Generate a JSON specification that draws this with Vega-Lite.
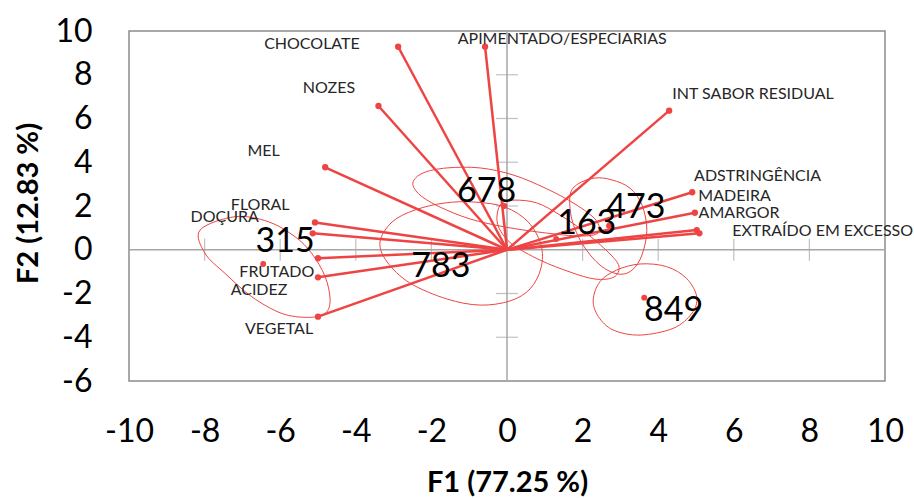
{
  "$schema": "https://vega.github.io/schema/vega-lite/v6.json",
  "width": 756,
  "height": 350,
  "autosize": {"type": "none"},
  "padding": {"left": 129, "top": 31, "right": 29, "bottom": 117},
  "background": "white",
  "config": {
    "view": {"stroke": "#8c8c8c", "strokeWidth": 1.5},
    "axis": {
      "domain": false, "ticks": false, "tickSize": 0, "grid": false,
      "labelFont": "Lato", "labelFontSize": 32, "labelColor": "#000000",
      "labelFlush": false, "labelOverlap": false,
      "labelExpr": "toString(datum.value)",
      "titleFont": "Lato", "titleFontSize": 29, "titleFontWeight": "bold", "titleColor": "#000000"
    }
  },
  "datasets": {
    "axes": [
      {"x": 0, "y": -6, "x2": 0, "y2": 10},
      {"x": -10, "y": 0, "x2": 10, "y2": 0}
    ],
    "ticksX": [{"v": -8}, {"v": -6}, {"v": -4}, {"v": -2}, {"v": 2}, {"v": 4}, {"v": 6}, {"v": 8}],
    "ticksY": [{"v": -4}, {"v": -2}, {"v": 2}, {"v": 4}, {"v": 6}, {"v": 8}],
    "variables": [
      {"var": "CHOCOLATE", "x": -2.88, "y": 9.28, "lx": -5.16, "ly": 9.40},
      {"var": "APIMENTADO/ESPECIARIAS", "x": -0.58, "y": 9.28, "lx": 1.46, "ly": 9.63},
      {"var": "NOZES", "x": -3.40, "y": 6.57, "lx": -4.71, "ly": 7.39},
      {"var": "MEL", "x": -4.81, "y": 3.77, "lx": -6.44, "ly": 4.51},
      {"var": "INT SABOR RESIDUAL", "x": 4.29, "y": 6.36, "lx": 6.51, "ly": 7.12},
      {"var": "ADSTRINGÊNCIA", "x": 4.90, "y": 2.63, "lx": 6.63, "ly": 3.37},
      {"var": "MADEIRA", "x": 4.97, "y": 1.69, "lx": 6.02, "ly": 2.45},
      {"var": "AMARGOR", "x": 5.02, "y": 0.90, "lx": 6.14, "ly": 1.69},
      {"var": "EXTRAÍDO EM EXCESSO", "x": 5.09, "y": 0.75, "lx": 8.35, "ly": 0.86},
      {"var": "FLORAL", "x": -5.08, "y": 1.25, "lx": -6.53, "ly": 2.05},
      {"var": "DOÇURA", "x": -5.14, "y": 0.75, "lx": -7.47, "ly": 1.50},
      {"var": "FRUTADO", "x": -5.00, "y": -0.39, "lx": -6.09, "ly": -1.00},
      {"var": "ACIDEZ", "x": -5.00, "y": -1.26, "lx": -6.56, "ly": -1.84},
      {"var": "VEGETAL", "x": -5.00, "y": -3.06, "lx": -6.03, "ly": -3.62}
    ],
    "samples": [
      {"s": "315", "x": -6.45, "y": -0.65, "lx": -5.87, "ly": 0.37},
      {"s": "678", "x": -0.07, "y": 2.00, "lx": -0.54, "ly": 2.66},
      {"s": "783", "x": -1.20, "y": -0.20, "lx": -1.75, "ly": -0.77},
      {"s": "163", "x": 1.30, "y": 0.49, "lx": 2.11, "ly": 1.18},
      {"s": "473", "x": 2.70, "y": 1.10, "lx": 3.41, "ly": 1.93},
      {"s": "849", "x": 3.63, "y": -2.19, "lx": 4.41, "ly": -2.79}
    ],
    "ellipses": [
      {"s": "315", "i": 1, "x": -8.12, "y": 0.90},
      {"s": "315", "i": 2, "x": -7.20, "y": 1.51},
      {"s": "315", "i": 3, "x": -6.31, "y": 1.28},
      {"s": "315", "i": 4, "x": -5.61, "y": 0.60},
      {"s": "315", "i": 5, "x": -5.17, "y": -0.16},
      {"s": "315", "i": 6, "x": -4.81, "y": -1.23},
      {"s": "315", "i": 7, "x": -4.68, "y": -2.30},
      {"s": "315", "i": 8, "x": -4.81, "y": -2.91},
      {"s": "315", "i": 9, "x": -5.26, "y": -3.09},
      {"s": "315", "i": 10, "x": -5.96, "y": -2.91},
      {"s": "315", "i": 11, "x": -6.75, "y": -2.15},
      {"s": "315", "i": 12, "x": -7.46, "y": -1.08},
      {"s": "315", "i": 13, "x": -7.99, "y": -0.16},
      {"s": "849", "i": 1, "x": 2.28, "y": -2.30},
      {"s": "849", "i": 2, "x": 2.46, "y": -1.46},
      {"s": "849", "i": 3, "x": 2.90, "y": -0.93},
      {"s": "849", "i": 4, "x": 3.52, "y": -0.65},
      {"s": "849", "i": 5, "x": 4.22, "y": -0.77},
      {"s": "849", "i": 6, "x": 4.75, "y": -1.31},
      {"s": "849", "i": 7, "x": 5.02, "y": -2.15},
      {"s": "849", "i": 8, "x": 4.89, "y": -2.91},
      {"s": "849", "i": 9, "x": 4.40, "y": -3.59},
      {"s": "849", "i": 10, "x": 3.52, "y": -3.90},
      {"s": "849", "i": 11, "x": 2.81, "y": -3.67},
      {"s": "849", "i": 12, "x": 2.42, "y": -3.06},
      {"s": "783", "i": 1, "x": -3.36, "y": 0.35},
      {"s": "783", "i": 2, "x": -3.04, "y": 1.27},
      {"s": "783", "i": 3, "x": -2.43, "y": 1.82},
      {"s": "783", "i": 4, "x": -1.64, "y": 2.14},
      {"s": "783", "i": 5, "x": -0.85, "y": 2.18},
      {"s": "783", "i": 6, "x": -0.05, "y": 1.95},
      {"s": "783", "i": 7, "x": 0.56, "y": 1.27},
      {"s": "783", "i": 8, "x": 0.90, "y": 0.22},
      {"s": "783", "i": 9, "x": 0.90, "y": -0.83},
      {"s": "783", "i": 10, "x": 0.61, "y": -1.79},
      {"s": "783", "i": 11, "x": 0.08, "y": -2.34},
      {"s": "783", "i": 12, "x": -0.71, "y": -2.53},
      {"s": "783", "i": 13, "x": -1.59, "y": -2.25},
      {"s": "783", "i": 14, "x": -2.57, "y": -1.52},
      {"s": "783", "i": 15, "x": -3.17, "y": -0.56},
      {"s": "678", "i": 1, "x": -2.49, "y": 3.05},
      {"s": "678", "i": 2, "x": -2.22, "y": 3.51},
      {"s": "678", "i": 3, "x": -1.59, "y": 3.74},
      {"s": "678", "i": 4, "x": -0.71, "y": 3.74},
      {"s": "678", "i": 5, "x": 0.16, "y": 3.42},
      {"s": "678", "i": 6, "x": 1.01, "y": 2.82},
      {"s": "678", "i": 7, "x": 1.80, "y": 2.09},
      {"s": "678", "i": 8, "x": 2.35, "y": 1.36},
      {"s": "678", "i": 9, "x": 2.41, "y": 0.77},
      {"s": "678", "i": 10, "x": 1.93, "y": 0.63},
      {"s": "678", "i": 11, "x": 1.01, "y": 0.77},
      {"s": "678", "i": 12, "x": -0.05, "y": 1.04},
      {"s": "678", "i": 13, "x": -0.98, "y": 1.41},
      {"s": "678", "i": 14, "x": -1.77, "y": 1.95},
      {"s": "678", "i": 15, "x": -2.30, "y": 2.50},
      {"s": "163", "i": 1, "x": -0.26, "y": 1.63},
      {"s": "163", "i": 2, "x": -0.13, "y": 2.14},
      {"s": "163", "i": 3, "x": 0.21, "y": 2.27},
      {"s": "163", "i": 4, "x": 0.79, "y": 2.14},
      {"s": "163", "i": 5, "x": 1.40, "y": 1.59},
      {"s": "163", "i": 6, "x": 2.06, "y": 0.81},
      {"s": "163", "i": 7, "x": 2.67, "y": -0.10},
      {"s": "163", "i": 8, "x": 2.96, "y": -0.74},
      {"s": "163", "i": 9, "x": 2.83, "y": -1.25},
      {"s": "163", "i": 10, "x": 2.33, "y": -1.34},
      {"s": "163", "i": 11, "x": 1.67, "y": -1.02},
      {"s": "163", "i": 12, "x": 0.87, "y": -0.47},
      {"s": "163", "i": 13, "x": 0.13, "y": 0.26},
      {"s": "163", "i": 14, "x": -0.21, "y": 0.99},
      {"s": "473", "i": 1, "x": 1.67, "y": 2.50},
      {"s": "473", "i": 2, "x": 1.88, "y": 3.01},
      {"s": "473", "i": 3, "x": 2.33, "y": 3.28},
      {"s": "473", "i": 4, "x": 2.78, "y": 3.19},
      {"s": "473", "i": 5, "x": 3.25, "y": 2.82},
      {"s": "473", "i": 6, "x": 3.57, "y": 2.05},
      {"s": "473", "i": 7, "x": 3.70, "y": 0.90},
      {"s": "473", "i": 8, "x": 3.57, "y": -0.24},
      {"s": "473", "i": 9, "x": 3.31, "y": -0.93},
      {"s": "473", "i": 10, "x": 2.94, "y": -1.11},
      {"s": "473", "i": 11, "x": 2.46, "y": -0.70},
      {"s": "473", "i": 12, "x": 2.01, "y": 0.22},
      {"s": "473", "i": 13, "x": 1.72, "y": 1.36}
    ]
  },
  "encoding": {
    "x": {
      "type": "quantitative",
      "title": "F1 (77.25 %)",
      "scale": {"domain": [-10, 10], "nice": false, "zero": false},
      "axis": {
        "values": [-10, -8, -6, -4, -2, 0, 2, 4, 6, 8, 10],
        "labelPadding": 50, "labelBaseline": "middle",
        "titleX": 378, "titleY": 101, "titleBaseline": "middle", "titleAnchor": "middle"
      }
    },
    "y": {
      "type": "quantitative",
      "title": "F2 (12.83 %)",
      "scale": {"domain": [-6, 10], "nice": false, "zero": false},
      "axis": {
        "values": [-6, -4, -2, 0, 2, 4, 6, 8, 10],
        "labelPadding": 37, "labelBaseline": "middle",
        "titleX": -101, "titleY": 172, "titleBaseline": "middle", "titleAngle": -90, "titleAnchor": "middle"
      }
    }
  },
  "layer": [
    {
      "data": {"name": "axes"},
      "mark": {"type": "rule", "color": "#a6a6a6", "strokeWidth": 1.5},
      "encoding": {
        "x": {"field": "x"},
        "y": {"field": "y"},
        "x2": {"field": "x2"},
        "y2": {"field": "y2"}
      }
    },
    {
      "data": {"name": "ticksX"},
      "mark": {"type": "tick", "orient": "vertical", "size": 22, "thickness": 1.2, "color": "#a6a6a6"},
      "encoding": {
        "x": {"field": "v"},
        "y": {"datum": 0}
      }
    },
    {
      "data": {"name": "ticksY"},
      "mark": {"type": "tick", "orient": "horizontal", "size": 22, "thickness": 1.2, "color": "#a6a6a6"},
      "encoding": {
        "x": {"datum": 0},
        "y": {"field": "v"}
      }
    },
    {
      "data": {"name": "ellipses"},
      "mark": {"type": "line", "interpolate": "cardinal-closed", "strokeWidth": 1, "color": "#ee4444"},
      "encoding": {
        "x": {"field": "x"},
        "y": {"field": "y"},
        "detail": {"field": "s", "type": "nominal"},
        "order": {"field": "i", "type": "quantitative"}
      }
    },
    {
      "data": {"name": "variables"},
      "mark": {"type": "rule", "strokeWidth": 2.5, "color": "#ee4444"},
      "encoding": {
        "x": {"field": "x"},
        "y": {"field": "y"},
        "x2": {"datum": 0},
        "y2": {"datum": 0}
      }
    },
    {
      "data": {"name": "variables"},
      "mark": {"type": "circle", "size": 40, "opacity": 1, "color": "#ee4444"},
      "encoding": {
        "x": {"field": "x"},
        "y": {"field": "y"}
      }
    },
    {
      "data": {"name": "samples"},
      "mark": {"type": "circle", "size": 35, "opacity": 1, "color": "#ee4444"},
      "encoding": {
        "x": {"field": "x"},
        "y": {"field": "y"}
      }
    },
    {
      "data": {"name": "variables"},
      "mark": {"type": "text", "font": "Lato", "fontSize": 16, "color": "#262626", "align": "center", "baseline": "middle"},
      "encoding": {
        "x": {"field": "lx"},
        "y": {"field": "ly"},
        "text": {"field": "var", "type": "nominal"}
      }
    },
    {
      "data": {"name": "samples"},
      "mark": {"type": "text", "font": "Lato", "fontSize": 34, "color": "#000000", "align": "center", "baseline": "middle"},
      "encoding": {
        "x": {"field": "lx"},
        "y": {"field": "ly"},
        "text": {"field": "s", "type": "nominal"}
      }
    }
  ]
}
